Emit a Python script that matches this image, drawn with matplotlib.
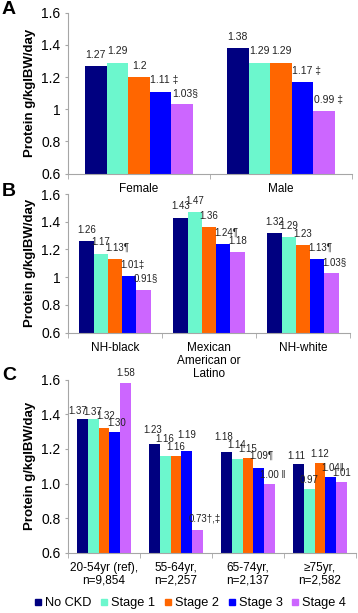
import matplotlib.pyplot as plt
from matplotlib.lines import Line2D
from matplotlib import font_manager

plt.rcParams['font.family'] = ['Liberation Sans', 'DejaVu Sans']

try:
    font_manager.findfont('Liberation Sans Narrow', fallback_to_default=False)
    narrow = ['Liberation Sans Narrow', 'DejaVu Sans']
except ValueError:
    narrow = ['Liberation Sans', 'DejaVu Sans']

stages = ['No CKD', 'Stage 1', 'Stage 2', 'Stage 3', 'Stage 4']
colors = ['#000080', '#6cf7cd', '#ff6600', '#0000ff', '#cc66ff']

# panel A: by sex (one list per stage)
sex_cats = ['Female', 'Male']
sex_vals = [[1.27, 1.38], [1.29, 1.29], [1.20, 1.29], [1.11, 1.17], [1.03, 0.99]]
sex_text = [['1.27', '1.38'], ['1.29', '1.29'], ['1.2', '1.29'],
            ['1.11 ‡', '1.17 ‡'], ['1.03§', '0.99 ‡']]

# panel B: by race/ethnicity
race_cats = ['NH-black', 'Mexican\nAmerican or\nLatino', 'NH-white']
race_vals = [[1.26, 1.43, 1.32], [1.17, 1.47, 1.29], [1.13, 1.36, 1.23],
             [1.01, 1.24, 1.13], [0.91, 1.18, 1.03]]
race_text = [['1.26', '1.43', '1.32'], ['1.17', '1.47', '1.29'],
             ['1.13¶', '1.36', '1.23'], ['1.01‡', '1.24¶', '1.13¶'],
             ['0.91§', '1.18', '1.03§']]

# panel C: by age group
age_cats = ['20-54yr (ref),\nn=9,854', '55-64yr,\nn=2,257',
            '65-74yr,\nn=2,137', '≥75yr,\nn=2,582']
age_vals = [[1.37, 1.23, 1.18, 1.11], [1.37, 1.16, 1.14, 0.97],
            [1.32, 1.16, 1.15, 1.12], [1.30, 1.19, 1.09, 1.04],
            [1.58, 0.73, 1.00, 1.01]]
age_text = [['1.37', '1.23', '1.18', '1.11'], ['1.37', '1.16', '1.14', '0.97'],
            ['1.32', '1.16', '1.15', '1.12'], ['1.30', '1.19', '1.09¶', '1.04‖'],
            ['1.58', '0.73†,‡', '1.00 ‖', '1.01']]
# nudges (points) for crowded labels in panel C
age_lift = [[0, 4, 5, 0], [-1, 6, 4, 0], [3, 0, 0, 0], [0, 5, 3, 0], [1, 2, 0, 0]]
age_shift = [[-3, -1, -2, -1], [0, 0, 0, 0], [1, 0, 0, 0], [1, 0, 0, 0], [0, 0, 0, 0]]

W, H = 358, 613
fig = plt.figure(figsize=(W / 100, H / 100), dpi=100)
gray = '#a6a6a6'
bw = 0.152


def num_width(s, fs, scale):
    w = 0
    for ch in s:
        if ch.isdigit():
            w += 0.556
        elif ch == '.':
            w += 0.278
        else:
            break
    return w * fs * scale


def panel(rect, cats, vals, texts, lab_fs, lab_font, lab_scale, lab_off,
          yfmt, letter, letter_y, lifts=None, shifts=None):
    ax = fig.add_axes(rect)
    n = len(cats)
    for j in range(5):
        xs = [i + 0.5 + (j - 2) * bw for i in range(n)]
        ax.bar(xs, vals[j], width=bw, color=colors[j], linewidth=0, zorder=2)
        for i in range(n):
            lift = lifts[j][i] if lifts else 0
            shift = shifts[j][i] if shifts else 0
            ax.annotate(texts[j][i], (xs[i], vals[j][i]),
                        xytext=(-num_width(texts[j][i], lab_fs, lab_scale) / 2 + shift,
                                lab_off + lift),
                        textcoords='offset points', ha='left', va='bottom',
                        fontsize=lab_fs, family=lab_font, color='#222222',
                        annotation_clip=False)
    ax.set_xlim(0, n)
    ax.set_ylim(0.6, 1.6)
    yt = [0.6, 0.8, 1.0, 1.2, 1.4, 1.6]
    ax.set_yticks(yt)
    ax.set_yticklabels([yfmt(v) for v in yt])
    ax.set_xticks([i + 0.5 for i in range(n)])
    ax.set_xticklabels(cats, fontsize=8.5, linespacing=1.1)
    ax.set_xticks(range(n + 1), minor=True)
    ax.tick_params(axis='x', which='major', length=0, pad=6.5)
    ax.tick_params(axis='x', which='minor', length=3.5, color=gray)
    ax.tick_params(axis='y', length=2.5, color=gray, labelsize=10, pad=3)
    for s in ['top', 'right']:
        ax.spines[s].set_visible(False)
    for s in ['left', 'bottom']:
        ax.spines[s].set_color(gray)
        ax.spines[s].set_linewidth(0.8)
    b = ax.get_position()
    fig.text(30 / W, b.y0 + b.height / 2, 'Protein g/kgIBW/day', rotation=90,
             ha='center', va='center', fontsize=9.5, fontweight='bold')
    fig.text(2 / W, 1 - letter_y / H, letter, ha='left', va='center',
             fontsize=14, fontweight='bold')
    return ax


def gen(v):
    return '{:g}'.format(v)


def one(v):
    return '{:.1f}'.format(v)


panel([68 / W, 1 - 173.7 / H, 284 / W, 161 / H], sex_cats, sex_vals, sex_text,
      7.5, ['Liberation Sans', 'DejaVu Sans'], 1.0, 4.5, gen, 'A', 10)
panel([68 / W, 1 - 332.7 / H, 282 / W, 138.7 / H], race_cats, race_vals,
      race_text, 7, ['Liberation Sans', 'DejaVu Sans'], 1.0, 4.5, gen, 'B', 191)
panel([68 / W, 1 - 552.7 / H, 288 / W, 173 / H], age_cats, age_vals, age_text,
      7, narrow, 0.82 if narrow[0].endswith('Narrow') else 1.0, 2.5, one,
      'C', 375, age_lift, age_shift)

handles = [Line2D([], [], marker='s', linestyle='none', color=c,
                  markersize=4.5) for c in colors]
fig.legend(handles, stages, loc='center', bbox_to_anchor=(190 / W, 1 - 603 / H),
           ncol=5, frameon=False, fontsize=9.2, handlelength=0.6,
           handletextpad=0.25, columnspacing=0.7, borderpad=0, borderaxespad=0)

fig.savefig('out.png', dpi=100)
